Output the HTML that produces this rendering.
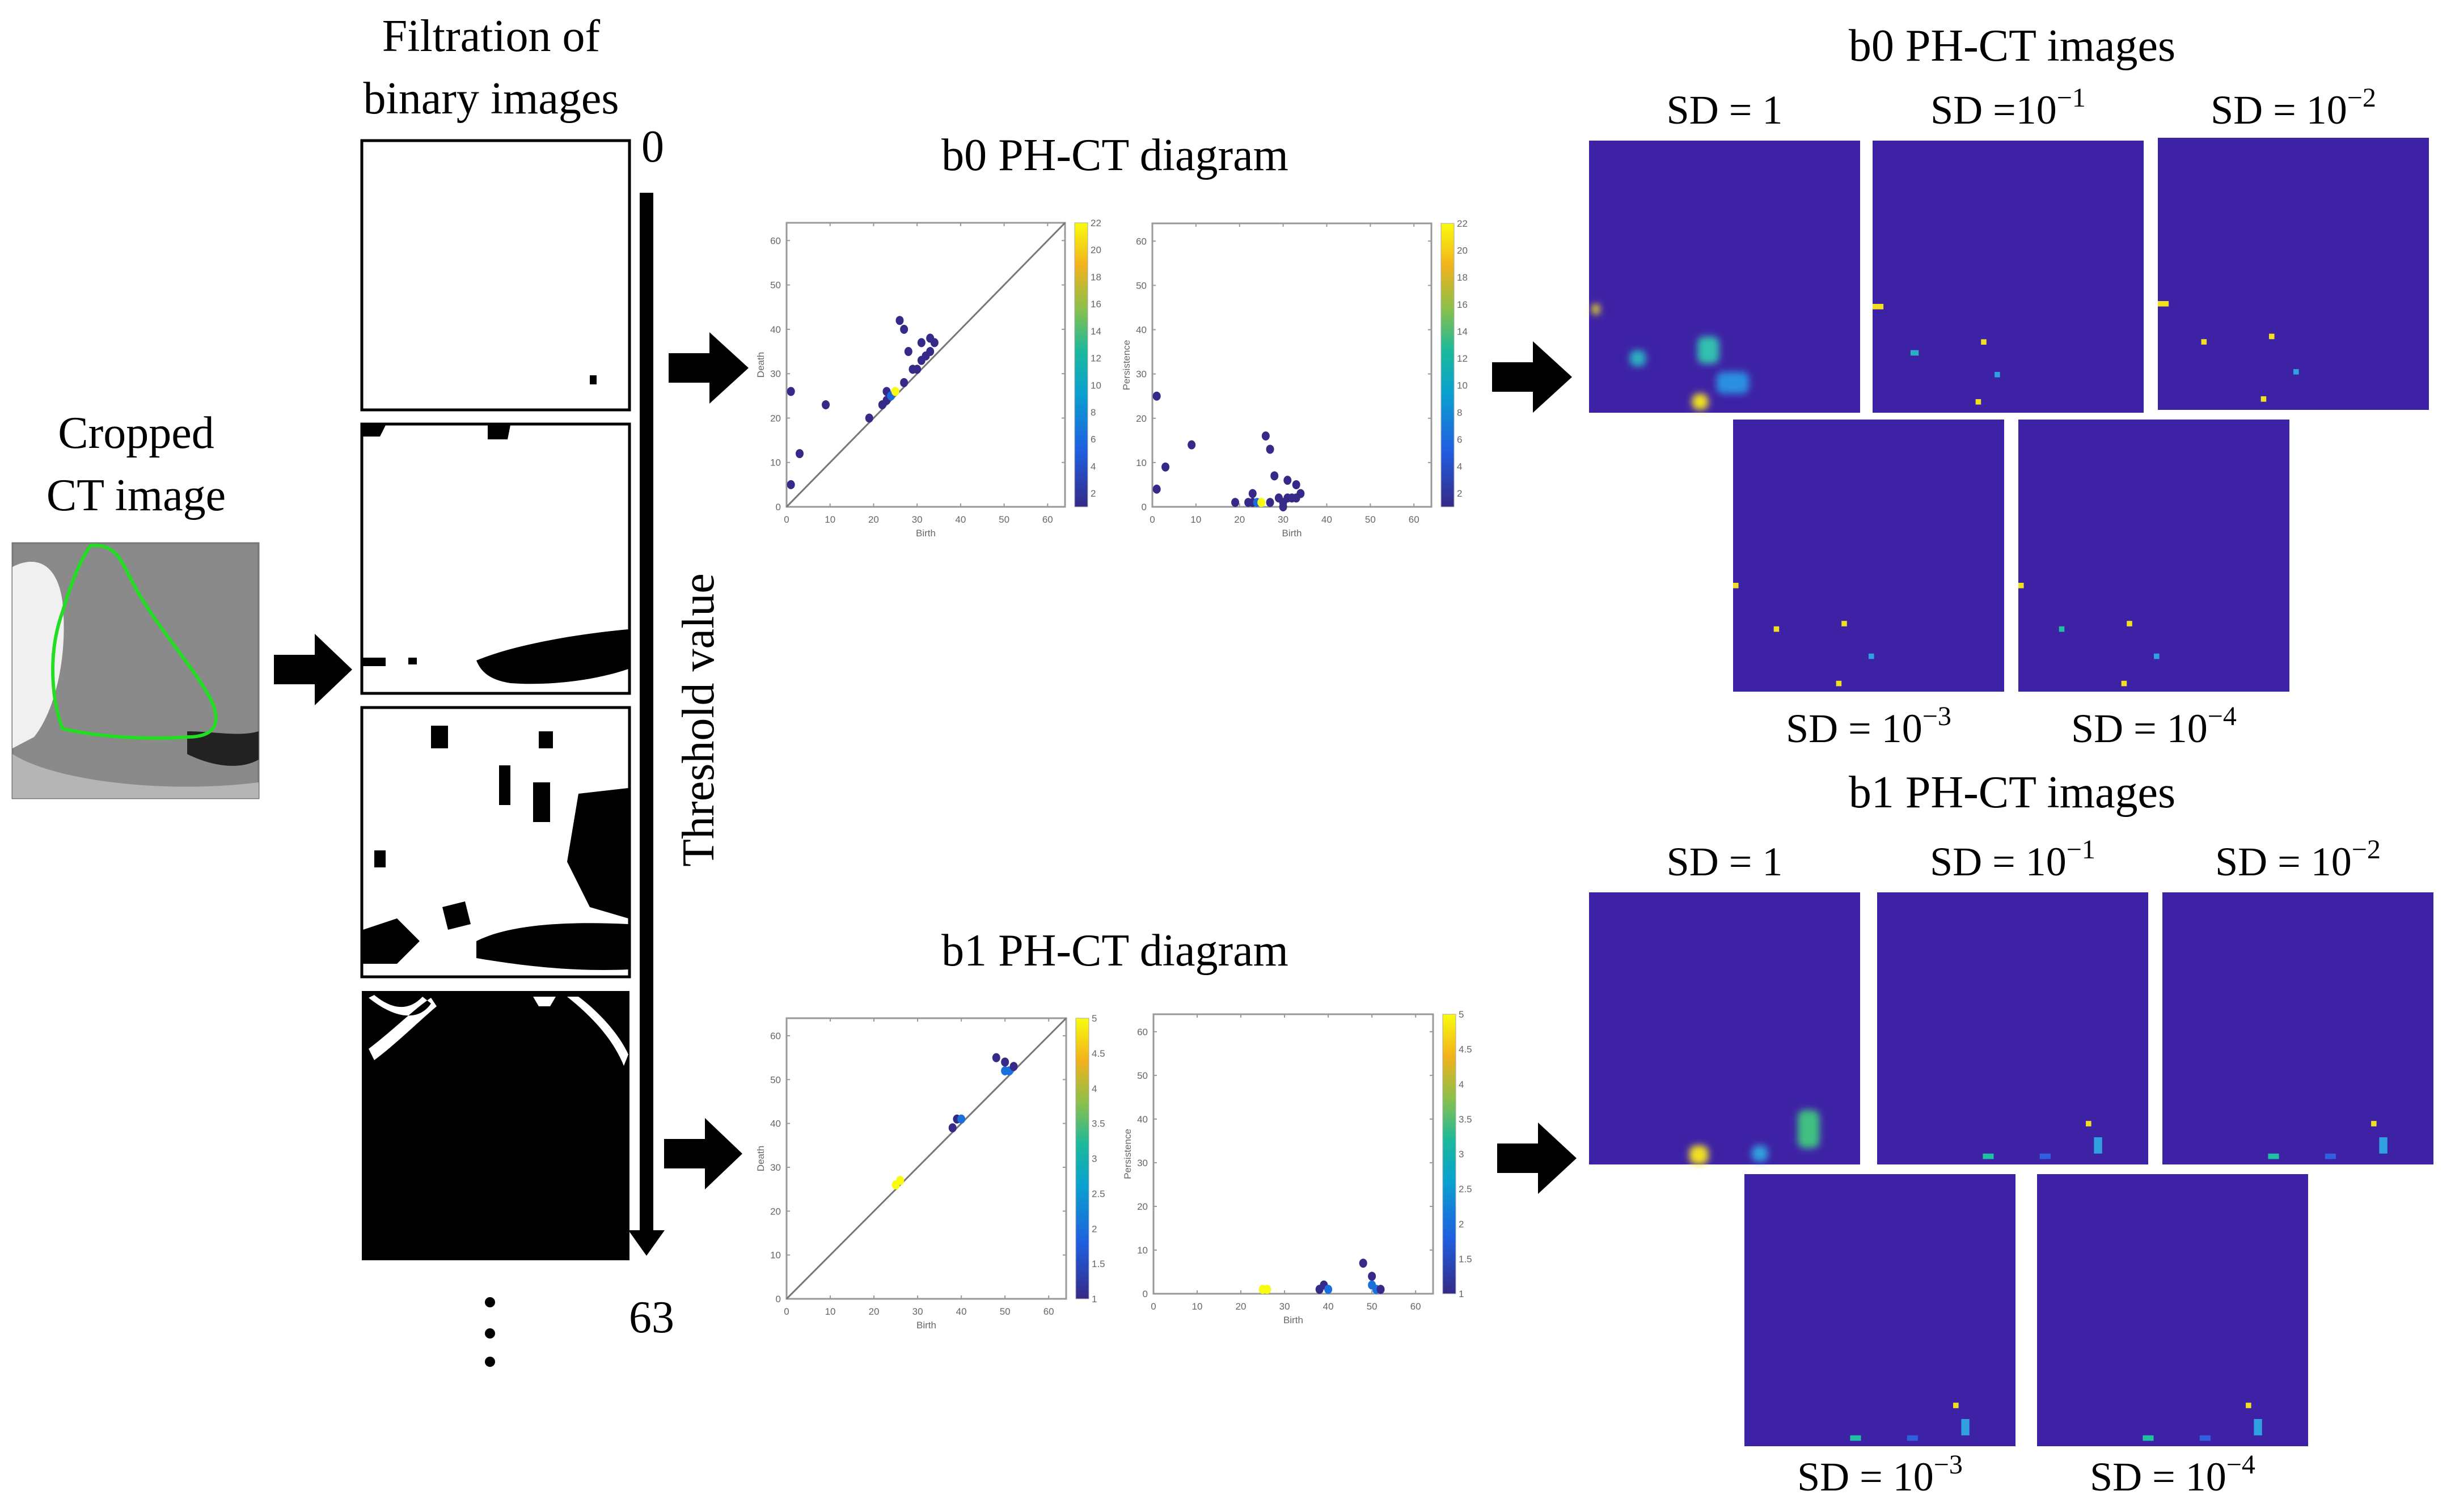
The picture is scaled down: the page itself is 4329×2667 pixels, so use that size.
<!DOCTYPE html>
<html><head><meta charset="utf-8"><style>
html,body{margin:0;padding:0;background:#fff}
svg{display:block}
.t{font-family:"Liberation Serif",serif;fill:#000}
.tk{font-family:"Liberation Sans",sans-serif;fill:#666;font-size:17px}
</style></head><body>
<svg id="fig" width="4329" height="2667" viewBox="0 0 4329 2667" xmlns="http://www.w3.org/2000/svg">
<defs>
<linearGradient id="parula" x1="0" y1="1" x2="0" y2="0">
<stop offset="0" stop-color="#352a87"/><stop offset="0.2" stop-color="#1f5fe0"/><stop offset="0.4" stop-color="#0aa0d0"/><stop offset="0.55" stop-color="#1bb99b"/><stop offset="0.7" stop-color="#8cc04a"/><stop offset="0.85" stop-color="#f2b21c"/><stop offset="1" stop-color="#f9fb0e"/>
</linearGradient>
<filter id="blur" x="-50%" y="-50%" width="200%" height="200%"><feGaussianBlur stdDeviation="6"/></filter>
</defs>

<text class="t" font-size="80" text-anchor="middle"><tspan x="866" y="90">Filtration of</tspan><tspan x="866" y="200">binary images</tspan></text>
<text class="t" font-size="80" text-anchor="middle"><tspan x="240" y="790">Cropped</tspan><tspan x="240" y="900">CT image</tspan></text>

<g>
<rect x="22" y="958" width="434" height="450" fill="#8a8a8a" stroke="#777" stroke-width="3"/>
<path d="M22,1000 C60,980 100,990 110,1060 C120,1150 100,1250 60,1300 L22,1320 Z" fill="#f0f0f0"/>
<path d="M330,1290 C380,1290 420,1300 456,1290 L456,1340 C420,1360 370,1350 330,1330 Z" fill="#222"/>
<path d="M22,1330 C100,1380 300,1400 456,1380 L456,1408 L22,1408 Z" fill="#b5b5b5"/>
<path d="M160,962 C200,960 210,980 230,1020 C270,1100 330,1160 370,1230 C390,1270 385,1300 330,1300 C260,1305 170,1300 110,1285 C90,1230 85,1150 110,1080 C125,1030 140,990 160,962 Z" fill="none" stroke="#22dd22" stroke-width="6"/>
</g>

<g><rect x="638" y="248" width="472" height="475" fill="#fff" stroke="#000" stroke-width="5"/><rect x="1040" y="662" width="12" height="16" fill="#000"/></g>
<g><rect x="638" y="748" width="472" height="475" fill="#fff" stroke="#000" stroke-width="5"/>
<path d="M640,750 L680,750 L670,770 L640,770Z M860,750 L900,750 L895,775 L860,775Z M840,1165 C900,1140 1000,1120 1108,1110 L1108,1180 C1050,1200 970,1210 900,1205 C870,1200 850,1190 840,1165Z M640,1160 L680,1160 L680,1175 L640,1175Z M720,1160 L735,1160 L735,1172 L720,1172Z" fill="#000"/></g>
<g><rect x="638" y="1248" width="472" height="475" fill="#fff" stroke="#000" stroke-width="5"/>
<path d="M1020,1400 L1108,1390 L1108,1620 L1040,1600 L1000,1520 Z M840,1660 C900,1630 1000,1625 1108,1630 L1108,1710 C1000,1715 900,1700 840,1690Z M640,1640 L700,1620 L740,1660 L700,1700 L640,1700Z M660,1500 L680,1500 L680,1530 L660,1530Z M760,1280 L790,1280 L790,1320 L760,1320Z M880,1350 L900,1350 L900,1420 L880,1420Z M940,1380 L970,1380 L970,1450 L940,1450Z M780,1600 L820,1590 L830,1630 L790,1640Z M950,1290 L975,1290 L975,1320 L950,1320Z" fill="#000"/></g>
<g><rect x="638" y="1748" width="472" height="475" fill="#000"/>
<path d="M650,1760 C700,1800 740,1800 760,1770 L745,1758 C720,1785 690,1780 660,1755Z M650,1850 C690,1820 730,1780 760,1760 L770,1775 C740,1800 700,1840 660,1870Z M1000,1758 C1040,1790 1080,1830 1100,1880 L1108,1860 C1090,1820 1050,1780 1020,1758Z M940,1758 L980,1758 L970,1775 L950,1775Z" fill="#fff"/></g>
<g><circle cx="864" cy="2297" r="9" fill="#000"/><circle cx="864" cy="2352" r="9" fill="#000"/><circle cx="864" cy="2402" r="9" fill="#000"/></g>

<g>
<rect x="1128" y="340" width="24" height="1840" fill="#000"/>
<path d="M1108,2170 L1172,2170 L1140,2215 Z" fill="#000"/>
</g>
<text class="t" x="1151" y="285" font-size="80" text-anchor="middle">0</text>
<text class="t" x="1149" y="2350" font-size="80" text-anchor="middle">63</text>
<text class="t" font-size="80" text-anchor="middle" transform="translate(1258,1270) rotate(-90)">Threshold value</text>

<g fill="#000">
<path d="M483,1155 L555,1155 L555,1118 L621,1181 L555,1244 L555,1207 L483,1207Z"/>
<path d="M1179,623 L1251,623 L1251,586 L1320,649 L1251,712 L1251,675 L1179,675Z"/>
<path d="M1171,2009 L1243,2009 L1243,1972 L1309,2035 L1243,2098 L1243,2061 L1171,2061Z"/>
<path d="M2631,639 L2703,639 L2703,602 L2772,665 L2703,728 L2703,691 L2631,691Z"/>
<path d="M2640,2017 L2712,2017 L2712,1980 L2780,2043 L2712,2106 L2712,2069 L2640,2069Z"/>
</g>

<text class="t" x="1966" y="300" font-size="80" text-anchor="middle">b0 PH-CT diagram</text>
<text class="t" x="1966" y="1703" font-size="80" text-anchor="middle">b1 PH-CT diagram</text>
<text class="t" x="3548" y="107" font-size="80" text-anchor="middle">b0 PH-CT images</text>
<text class="t" x="3548" y="1424" font-size="80" text-anchor="middle">b1 PH-CT images</text>

<g id="charts"></g>
<g id="heat"></g>
</svg>
<script>
const b0Birth = [1,1,3,9,19,22,23,23,24,25,26,27,27,28,29,30,31,31,32,33,33,34];
const b0Death = [26,5,12,23,20,23,24,26,25,26,42,40,28,35,31,31,33,37,34,35,38,37];
const b0Mult  = [1,1,1,1,1,1,1,1,6,22,1,1,1,1,1,1,1,1,1,1,1,1];
const b0PBirth = [1,1,3,9,19,22,23,23,24,25,26,27,27,28,29,30,30,31,31,32,33,33,34];
const b0Pers   = [25,4,9,14,1,1,1,3,1,1,16,13,1,7,2,1,0,6,2,2,5,2,3];
const b0PMult  = [1,1,1,1,1,1,1,1,6,22,1,1,1,1,1,1,1,1,1,1,1,1,1];
const b1Birth = [25,26,38,39,40,48,50,51,50,52];
const b1Death = [26,27,39,41,41,55,54,52,52,53];
const b1Mult  = [5,5,1,1,2,1,1,2,2,1];
const b1PBirth = [25,26,38,39,40,48,50,50,51,52];
const b1Pers   = [1,1,1,2,1,7,4,2,1,1];
const b1PMult  = [5,5,1,1,2,1,1,2,2,1];
const axisTicks = [0,10,20,30,40,50,60];
const b0CbTicks = [2,4,6,8,10,12,14,16,18,20,22];
const b1CbTicks = [1,1.5,2,2.5,3,3.5,4,4.5,5];

const NS="http://www.w3.org/2000/svg";
function mk(tag,attrs,parent){const e=document.createElementNS(NS,tag);for(const k in attrs)e.setAttribute(k,attrs[k]);parent.appendChild(e);return e;}
const stops=[[0,[53,42,135]],[0.2,[31,95,224]],[0.4,[10,160,208]],[0.55,[27,185,155]],[0.7,[140,192,74]],[0.85,[242,178,28]],[1,[249,251,14]]];
function parula(t){t=Math.max(0,Math.min(1,t));for(let i=1;i<stops.length;i++){if(t<=stops[i][0]){const a=stops[i-1],b=stops[i];const f=(t-a[0])/(b[0]-a[0]);const c=a[1].map((v,j)=>Math.round(v+(b[1][j]-v)*f));return`rgb(${c})`;}}return'rgb(249,251,14)';}

function plot(name,x0,y0,w,h,xs,ys,ms,cmin,cmax,cbTicks,ylab,diag){
  const root=document.getElementById('charts');
  const g=mk('g',{},root);
  
  
  const sx=v=>x0+v/64*w, sy=v=>y0+h-v/64*h;
  mk('rect',{x:x0,y:y0,width:w,height:h,fill:'#fff',stroke:'#999','stroke-width':3},g);
  axisTicks.forEach(t=>{
    mk('line',{x1:sx(t),x2:sx(t),y1:y0+h,y2:y0+h-6,stroke:'#999','stroke-width':2},g);
    mk('line',{x1:sx(t),x2:sx(t),y1:y0,y2:y0+6,stroke:'#999','stroke-width':2},g);
    mk('line',{x1:x0,x2:x0+6,y1:sy(t),y2:sy(t),stroke:'#999','stroke-width':2},g);
    mk('line',{x1:x0+w,x2:x0+w-6,y1:sy(t),y2:sy(t),stroke:'#999','stroke-width':2},g);
    const tx=mk('text',{x:sx(t),y:y0+h+28,'text-anchor':'middle',class:'tk'},g);tx.textContent=t;
    const ty=mk('text',{x:x0-10,y:sy(t)+6,'text-anchor':'end',class:'tk'},g);ty.textContent=t;
  });
  const xl=mk('text',{x:x0+w/2,y:y0+h+52,'text-anchor':'middle',class:'tk'},g);xl.textContent='Birth';
  const yl=mk('text',{transform:`translate(${x0-40},${y0+h/2}) rotate(-90)`,'text-anchor':'middle',class:'tk'},g);yl.textContent=ylab;
  if(diag) mk('line',{x1:sx(0),y1:sy(0),x2:sx(64),y2:sy(64),stroke:'#777','stroke-width':3},g);
  xs.forEach((b,i)=>{
    const c=mk('ellipse',{cx:sx(b),cy:sy(ys[i]),rx:7,ry:8,fill:parula((ms[i]-cmin)/(cmax-cmin))},g);
    
    
  });
  const cx=x0+w+17;
  const cb=mk('rect',{x:cx,y:y0,width:23,height:h,fill:'url(#parula)',stroke:'#aaa','stroke-width':1},g);
  
  
  cbTicks.forEach(t=>{
    const yy=y0+h-(t-cmin)/(cmax-cmin)*h;
    const tt=mk('text',{x:cx+28,y:yy+6,class:'tk'},g);tt.textContent=t;
  });
}
plot('b0-death-plot',1387,393,491,501,b0Birth,b0Death,b0Mult,1,22,b0CbTicks,'Death',true);
plot('b0-persistence-plot',2032,394,492,500,b0PBirth,b0Pers,b0PMult,1,22,b0CbTicks,'Persistence',false);
plot('b1-death-plot',1387,1796,493,495,b1Birth,b1Death,b1Mult,1,5,b1CbTicks,'Death',true);
plot('b1-persistence-plot',2034,1789,493,493,b1PBirth,b1Pers,b1PMult,1,5,b1CbTicks,'Persistence',false);

const panels=[
 ['b0-sd-1',2802,248,'SD = 1',193,true,[[0.01,0.6,0.03,0.04,'#f0e020'],[0.15,0.77,0.06,0.06,'#2ab0c0'],[0.4,0.72,0.08,0.1,'#30c0b0'],[0.38,0.93,0.06,0.06,'#f0e020'],[0.47,0.85,0.12,0.08,'#2a90e0']]],
 ['b0-sd-1e-1',3302,248,'SD =10',193,false,[[0.0,0.6,0.04,0.02,'#f0e020'],[0.4,0.73,0.02,0.02,'#f0e020'],[0.14,0.77,0.03,0.02,'#2ab0c0'],[0.38,0.95,0.02,0.02,'#f0e020'],[0.45,0.85,0.02,0.02,'#30a0e0']]],
 ['b0-sd-1e-2',3805,243,'SD = 10',193,false,[[0.0,0.6,0.04,0.02,'#f0e020'],[0.16,0.74,0.02,0.02,'#f0e020'],[0.41,0.72,0.02,0.02,'#f0e020'],[0.38,0.95,0.02,0.02,'#f0e020'],[0.5,0.85,0.02,0.02,'#30a0e0']]],
 ['b0-sd-1e-3',3056,740,'SD = 10',1284,false,[[0.0,0.6,0.02,0.02,'#f0e020'],[0.15,0.76,0.02,0.02,'#f0e020'],[0.4,0.74,0.02,0.02,'#f0e020'],[0.38,0.96,0.02,0.02,'#f0e020'],[0.5,0.86,0.02,0.02,'#30a0e0']]],
 ['b0-sd-1e-4',3559,740,'SD = 10',1284,false,[[0.0,0.6,0.02,0.02,'#f0e020'],[0.15,0.76,0.02,0.02,'#20c0a0'],[0.4,0.74,0.02,0.02,'#f0e020'],[0.38,0.96,0.02,0.02,'#f0e020'],[0.5,0.86,0.02,0.02,'#30a0e0']]],
 ['b1-sd-1',2802,1574,'SD = 1',1519,true,[[0.37,0.93,0.07,0.07,'#f0e020'],[0.6,0.93,0.06,0.06,'#30a0e0'],[0.77,0.8,0.08,0.14,'#40c080']]],
 ['b1-sd-1e-1',3310,1574,'SD = 10',1519,false,[[0.39,0.96,0.04,0.02,'#20c0a0'],[0.6,0.96,0.04,0.02,'#3060e0'],[0.77,0.84,0.02,0.02,'#f0e020'],[0.8,0.9,0.03,0.06,'#30a0e0']]],
 ['b1-sd-1e-2',3813,1574,'SD = 10',1519,false,[[0.39,0.96,0.04,0.02,'#20c0a0'],[0.6,0.96,0.04,0.02,'#3060e0'],[0.77,0.84,0.02,0.02,'#f0e020'],[0.8,0.9,0.03,0.06,'#30a0e0']]],
 ['b1-sd-1e-3',3076,2071,'SD = 10',2604,false,[[0.39,0.96,0.04,0.02,'#20c0a0'],[0.6,0.96,0.04,0.02,'#3060e0'],[0.77,0.84,0.02,0.02,'#f0e020'],[0.8,0.9,0.03,0.06,'#30a0e0']]],
 ['b1-sd-1e-4',3592,2071,'SD = 10',2604,false,[[0.39,0.96,0.04,0.02,'#20c0a0'],[0.6,0.96,0.04,0.02,'#3060e0'],[0.77,0.84,0.02,0.02,'#f0e020'],[0.8,0.9,0.03,0.06,'#30a0e0']]]
];
const exps=['','-1','-2','-3','-4','','-1','-2','-3','-4'];
const heat=document.getElementById('heat');
panels.forEach((p,i)=>{
  const [name,x,y,lab,ly,soft,spots]=p;const W=478,H=480;
  const g=mk('g',{},heat);
  
  
  mk('rect',{x:x,y:y,width:W,height:H,fill:'#3e22a6'},g);
  const sg=mk('g',soft?{filter:'url(#blur)'}:{},g);
  spots.forEach(s=>mk('rect',{x:x+s[0]*W,y:y+s[1]*H,width:s[2]*W,height:Math.min(s[3]*H,y+H-(y+s[1]*H)),rx:soft?12:0,fill:s[4]},sg));
  const t=mk('text',{x:x+W/2,y:ly+25,'text-anchor':'middle','font-size':72,class:'t'},g);
  
  
  t.textContent=lab;
  if(exps[i]){const ts=mk('tspan',{dy:-30,'font-size':48},t);ts.textContent=exps[i].replace('-','\u2212');}
});
</script>
</body></html>
